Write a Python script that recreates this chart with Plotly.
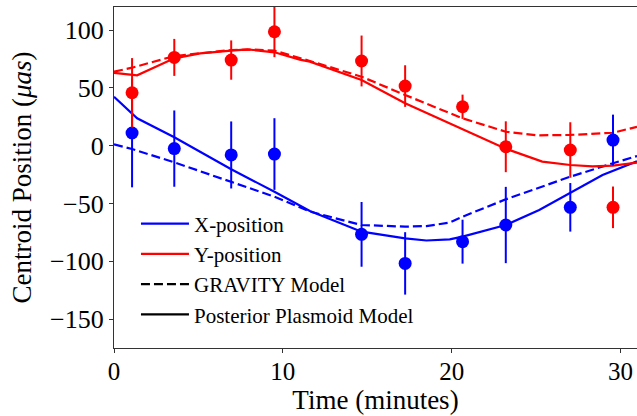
import plotly.graph_objects as go

# Observed centroid data
t_obs = [1.07, 3.57, 6.94, 9.50, 14.66, 17.24, 20.64, 23.20, 27.02, 29.55]
x_obs = [11.0, -2.5, -8.0, -7.2, -76.7, -101.8, -83.0, -68.6, -53.3, 4.9]
x_err = [47, 33, 29, 31, 28, 27, 19, 33, 21, 22]
y_obs = [45.8, 76.4, 74.1, 98.6, 73.3, 51.6, 33.7, -0.9, -3.7, -53.3]
y_err = [30, 16, 17, 22, 22, 18, 10.5, 22, 24, 18]

# Posterior plasmoid model
t_post_x = [0, 1.37, 3.57, 6.94, 9.5, 11.6, 14.66, 17.24, 18.5, 19.88, 20.64, 23.2, 25.18, 27.02, 28.93, 30.97]
x_post = [42.4, 23.7, 7.3, -20.4, -39.8, -56.5, -74.4, -80.1, -82.0, -81.0, -78.7, -68.6, -55.6, -41.0, -25.3, -13.5]
t_post_y = [0, 1.37, 3.57, 5.1, 6.94, 7.9, 9.5, 11.0, 11.6, 14.66, 17.24, 20.64, 23.2, 25.36, 27.02, 28.34, 29.55, 30.97]
y_post = [63.1, 60.9, 75.6, 79.9, 82.2, 83.4, 80.8, 74.5, 72.7, 56.8, 36.7, 14.5, -2.6, -13.8, -16.7, -17.9, -17.3, -14.7]

# GRAVITY model
t_grav_x = [0, 1.07, 3.57, 6.94, 9.5, 11.6, 14.66, 17.24, 18.5, 19.88, 20.64, 23.2, 27.02, 29.55, 30.97]
x_grav = [1.2, -2.9, -14.4, -31.1, -44.1, -57.0, -68.6, -70.0, -69.5, -66.5, -61.4, -46.4, -26.8, -15.2, -8.9]
t_grav_y = [0, 1.07, 3.57, 6.94, 8.3, 9.5, 11.6, 14.66, 17.24, 20.64, 23.2, 25.0, 27.02, 29.55, 30.97]
y_grav = [64.0, 67.5, 77.6, 82.8, 83.2, 82.2, 73.3, 59.7, 43.9, 23.7, 12.1, 9.0, 9.3, 11.2, 16.4]

x_ticks = [0, 10, 20, 30]
y_ticks = [-150, -100, -50, 0, 50, 100]

BLUE = "#0000ff"
RED = "#ff0000"
FONT = "Liberation Serif"
LW = 2.2
DASH = "9px,4px"

fig = go.Figure()

# model curves
fig.add_trace(go.Scatter(x=t_grav_x, y=x_grav, mode="lines", line=dict(color=BLUE, width=LW, dash=DASH), showlegend=False))
fig.add_trace(go.Scatter(x=t_grav_y, y=y_grav, mode="lines", line=dict(color=RED, width=LW, dash=DASH), showlegend=False))
fig.add_trace(go.Scatter(x=t_post_x, y=x_post, mode="lines", line=dict(color=BLUE, width=LW), showlegend=False))
fig.add_trace(go.Scatter(x=t_post_y, y=y_post, mode="lines", line=dict(color=RED, width=LW), showlegend=False))

# data with error bars
fig.add_trace(go.Scatter(x=t_obs, y=x_obs, mode="markers", marker=dict(color=BLUE, size=13),
                         error_y=dict(type="data", array=x_err, color=BLUE, thickness=2, width=0),
                         showlegend=False))
fig.add_trace(go.Scatter(x=t_obs, y=y_obs, mode="markers", marker=dict(color=RED, size=13),
                         error_y=dict(type="data", array=y_err, color=RED, thickness=2, width=0),
                         showlegend=False))

# legend entries
legend_items = [("X-position", BLUE, "solid"), ("Y-position", RED, "solid"),
                ("GRAVITY Model", "black", DASH), ("Posterior Plasmoid Model", "black", "solid")]
for i, (name, col, dash) in enumerate(legend_items):
    fig.add_trace(go.Scatter(x=[None], y=[None], mode="lines", line=dict(color=col, width=LW, dash=dash),
                             name=name, legendgroup=f"g{i}"))

fig.update_layout(
    width=637, height=416,
    margin=dict(l=114, r=0, t=7, b=68, autoexpand=False),
    plot_bgcolor="white", paper_bgcolor="white",
    font=dict(family=FONT, color="black", size=25),
    legend=dict(x=0.042, y=0.424, xanchor="left", yanchor="top",
                font=dict(family=FONT, size=21, color="black"),
                bgcolor="rgba(255,255,255,0)", itemwidth=48, tracegroupgap=0),
)
fig.update_xaxes(range=[0, 30.97], tickvals=x_ticks, ticks="outside", ticklen=4, tickwidth=1,
                 tickcolor="#333", showline=True, linecolor="#333", linewidth=1.2, mirror=True,
                 showgrid=False, zeroline=False, tickfont=dict(size=25), automargin=False,
                 ticklabelstandoff=-3,
                 title=dict(text="Time (minutes)", font=dict(size=27), standoff=0))
fig.update_yaxes(range=[-175, 120], tickvals=y_ticks, ticks="outside", ticklen=4, tickwidth=1,
                 tickcolor="#333", showline=True, linecolor="#333", linewidth=1.2,
                 showgrid=False, zeroline=False, tickfont=dict(size=26), automargin=False,
                 title=dict(text="Centroid Position (<i>μas</i>)", font=dict(size=27), standoff=10))

fig.write_html("out.html", config={"displayModeBar": False},
               post_script="document.body.style.margin='0px';document.body.style.overflow='hidden';")
